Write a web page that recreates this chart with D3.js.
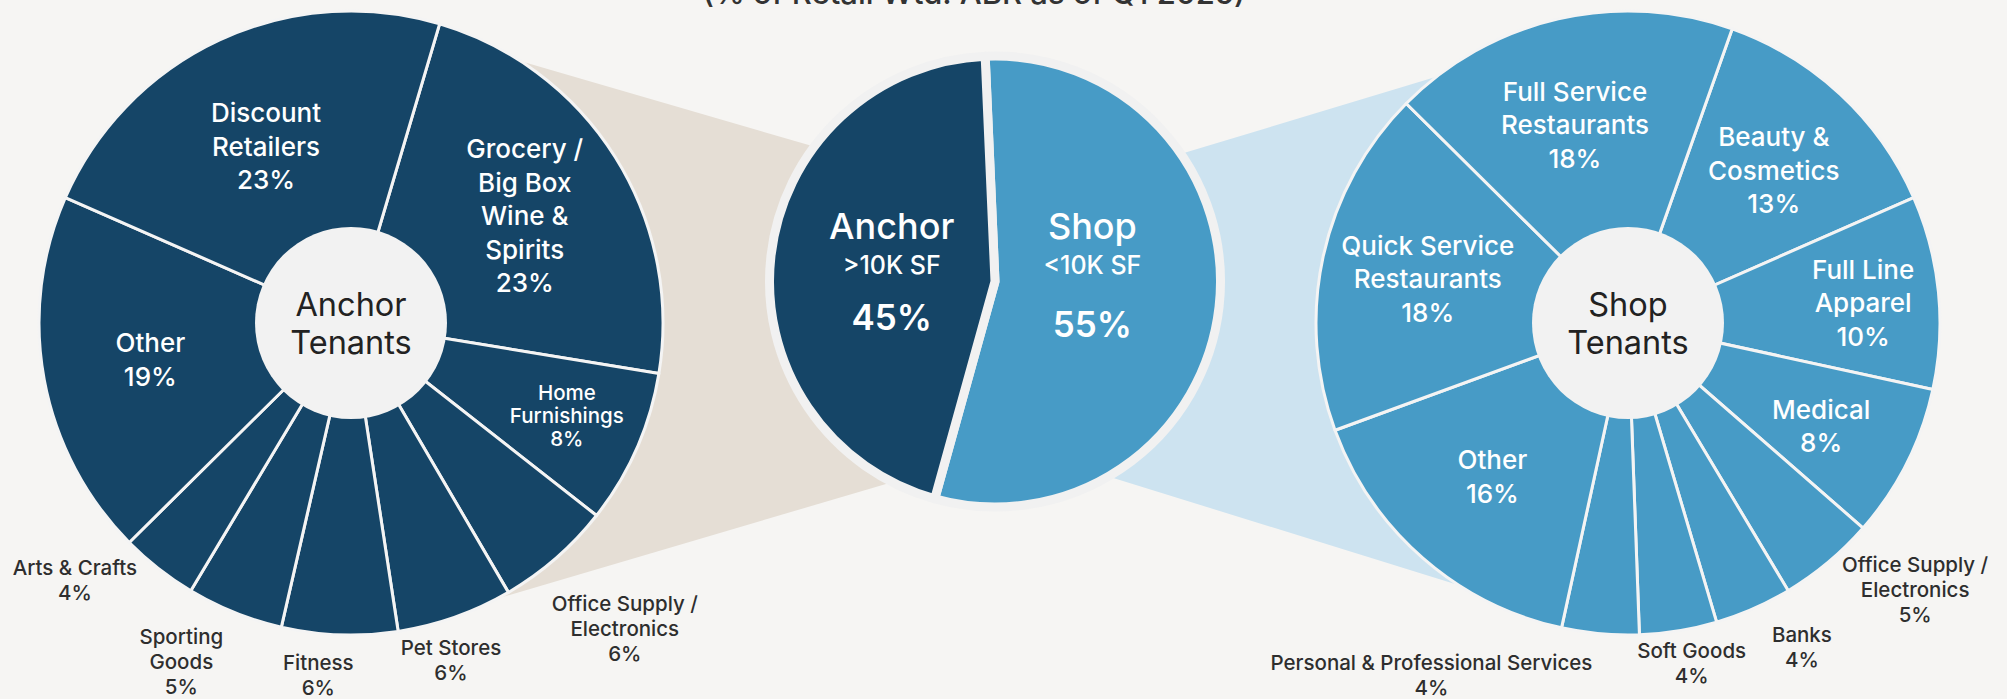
<!DOCTYPE html>
<html>
<head>
<meta charset="utf-8">
<script src="https://cdn.jsdelivr.net/npm/d3@7"></script>
<style>
body{margin:0;background:#f6f5f3;}
svg{display:block;font-family:Inter, "Noto Sans", sans-serif;}
</style>
</head>
<body>
<div id="chart"></div>
<script>
'use strict';

var W = 2007, H = 699

var subtitle = "(% of Retail Wtd. ABR as of Q1 2025)"

// middle pie: shop first, then anchor
var splitNames = ["Shop", "Anchor"]
var splitSubs = ["<10K SF", ">10K SF"]
var splitValues = [55, 45]

// anchor tenants, clockwise from Grocery
var anchorNames = [["Grocery /","Big Box","Wine &","Spirits"],["Home","Furnishings"],["Office Supply /","Electronics"],["Pet Stores"],["Fitness"],["Sporting","Goods"],["Arts & Crafts"],["Other"],["Discount","Retailers"]]
var anchorValues = [23, 8, 6, 6, 6, 5, 4, 19, 23]

// shop tenants, clockwise from Beauty
var shopNames = [["Beauty &","Cosmetics"],["Full Line","Apparel"],["Medical"],["Office Supply /","Electronics"],["Banks"],["Soft Goods"],["Personal & Professional Services"],["Other"],["Quick Service","Restaurants"],["Full Service","Restaurants"]]
var shopValues = [13, 10, 8, 5, 4, 4, 4, 16, 18, 18]

var bg = "#f6f5f3"
var navy = "#154567"
var blue = "#479bc6"
var holeFill = "#f2f2f2"

var left = {cx:351, cy:323, r:312, hole:96, start:16.5}
var right = {cx:1628, cy:323, r:312, hole:96, start:19.5}
var mid = {cx:995, cy:281.5, r:225.5, ring:230, start:-2.5}

// label placement: [radius, angle shift in degrees, style]
var anchorPlace = [[204,0.5,"in"],[235,-0.4,"small"],[410,-0.8,"out"],[352,3,"out"],[354,3.2,"out"],[379,4.7,"out"],[377,9,"out"],[204,0.1,"in"],[196,-0.8,"in"]]
var shopPlace = [[211,0.8,"in"],[236,0.8,"in"],[219,1.4,"in"],[392,-7.2,"out"],[368,-4.5,"out"],[346,-1.3,"out"],[403,24.1,"out"],[205,0.3,"in"],[205,0.1,"in"],[205,-2.1,"in"]]

var styles = {
	"in": {size:26, lh:33.5, color:"#fff", weight:500},
	"small": {size:20.5, lh:23, color:"#fff", weight:500},
	"out": {size:20.5, lh:25, color:"#2e2e2e", weight:500}
}

function rad(d){ return d*Math.PI/180 }
function polar(c, r, deg){ return [c.cx + r*Math.sin(rad(deg)), c.cy - r*Math.cos(rad(deg))] }

var svg = d3.select("#chart").append("svg").attr("width",W).attr("height",H)
svg.append("rect").attr("width",W).attr("height",H).attr("fill",bg)

svg.append("text").text(subtitle)
	.attr("x",974).attr("y",4)
	.attr("text-anchor","middle")
	.attr("fill","#333")
	.style("font-size","31px").style("font-weight",500)

// zoom connectors, drawn behind the pies
var beige = [[left.cx,left.cy], polar(left,left.r,33), polar(mid,mid.ring,306.3), [mid.cx,mid.cy], polar(mid,mid.ring,208.3), polar(left,left.r,152)]
var pale = [[mid.cx,mid.cy], polar(mid,mid.ring,55.9), polar(right,right.r,322.1), [right.cx,right.cy], polar(right,right.r,212.8), polar(mid,mid.ring,148.8)]
svg.append("polygon").attr("points",beige.join(" ")).attr("fill","#e5ded5")
svg.append("polygon").attr("points",pale.join(" ")).attr("fill","#cde3f0")

function addLines(g, x, y, lines, st){
	var t = g.append("text").attr("text-anchor","middle").attr("fill",st.color)
		.style("font-size",st.size+"px").style("font-weight",st.weight || 400)
	lines.forEach(function(l,j){
		t.append("tspan")
			.attr("x",x)
			.attr("y",y + (j-(lines.length-1)/2)*st.lh + st.size*0.36)
			.text(l)
	})
}

function drawRing(c, names, values, place, color, title){
	var pie = d3.pie().sort(null).startAngle(rad(c.start)).endAngle(rad(c.start+360))
	var arcs = pie(values)
	var arc = d3.arc().innerRadius(0).outerRadius(c.r)
	var g = svg.append("g").attr("transform","translate("+c.cx+","+c.cy+")")

	g.selectAll("path").data(arcs).enter().append("path")
		.attr("d",arc)
		.attr("fill",color)
		.attr("stroke","#f4f4f4")
		.attr("stroke-width",3)
		.attr("stroke-linejoin","round")

	g.append("circle").attr("r",c.hole).attr("fill",holeFill)
	addLines(g, 0, 0, title, {size:32.5, lh:38, color:"#222", weight:400})

	arcs.forEach(function(a,i){
		var p = place[i]
		var deg = (a.startAngle+a.endAngle)/2*180/Math.PI + p[1]
		var pt = polar({cx:0,cy:0}, p[0], deg)
		addLines(g, pt[0], pt[1], names[i].concat([values[i]+"%"]), styles[p[2]])
	})
}

drawRing(left, anchorNames, anchorValues, anchorPlace, navy, ["Anchor","Tenants"])
drawRing(right, shopNames, shopValues, shopPlace, blue, ["Shop","Tenants"])

// middle split pie
var splitColors = [blue, navy]
var splitLabelR = [98, 104]
var splitPctY = [43, 36]
var midPie = d3.pie().sort(null).startAngle(rad(mid.start)).endAngle(rad(mid.start+360))
var midArcs = midPie(splitValues)
var midArc = d3.arc().innerRadius(0).outerRadius(mid.r)
var mg = svg.append("g").attr("transform","translate("+mid.cx+","+mid.cy+")")
mg.selectAll("path").data(midArcs).enter().append("path")
	.attr("d",midArc)
	.attr("fill",function(d,i){ return splitColors[i] })
	.attr("stroke","#f1f1f1")
	.attr("stroke-width",9)
	.attr("stroke-linejoin","round")

midArcs.forEach(function(a,i){
	var deg = (a.startAngle+a.endAngle)/2*180/Math.PI
	var x = polar({cx:0,cy:0}, splitLabelR[i], deg)[0]
	mg.append("text").text(splitNames[i]).attr("x",x).attr("y",-43)
		.attr("text-anchor","middle").attr("fill","#fff")
		.style("font-size","36px").style("font-weight",500)
	mg.append("text").text(splitSubs[i]).attr("x",x).attr("y",-8)
		.attr("text-anchor","middle").attr("fill","#fff")
		.style("font-size","25px").style("font-weight",500)
	mg.append("text").text(splitValues[i]+"%").attr("x",x).attr("y",splitPctY[i]+12.5)
		.attr("text-anchor","middle").attr("fill","#fff")
		.style("font-size","35px").style("font-weight",600)
})
</script>
</body>
</html>
